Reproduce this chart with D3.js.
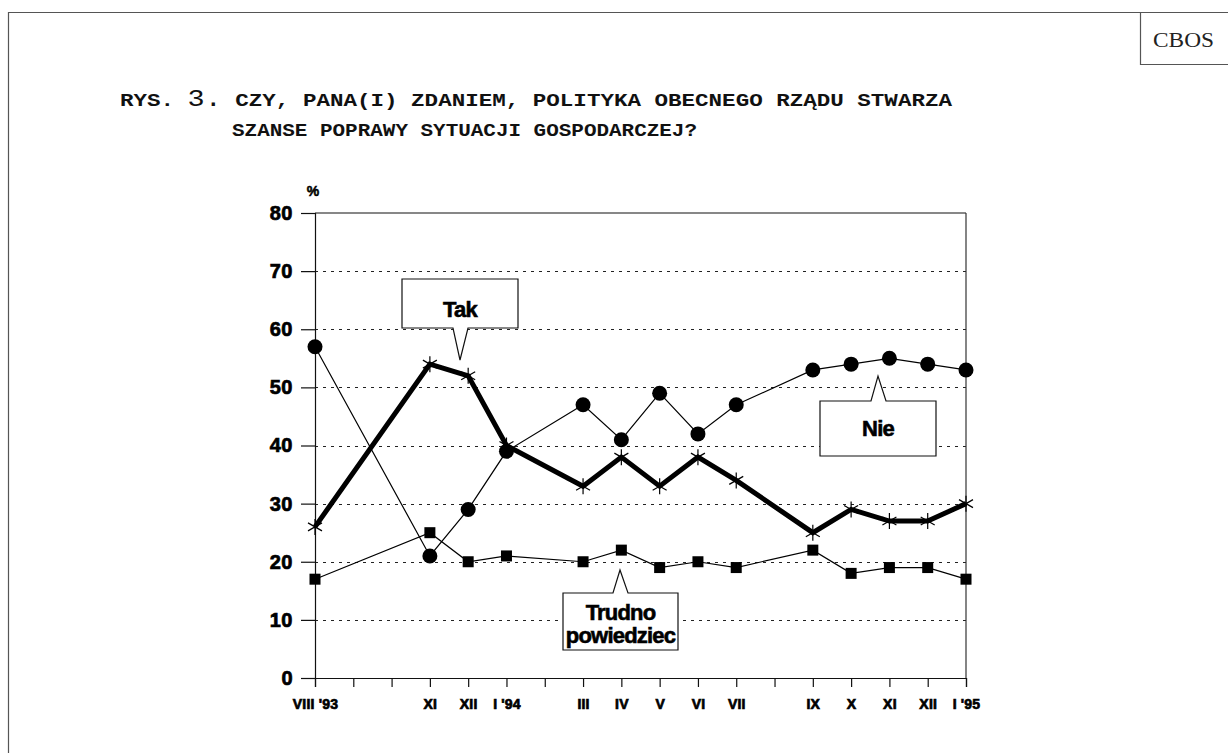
<!DOCTYPE html>
<html><head><meta charset="utf-8">
<script src="https://cdn.jsdelivr.net/npm/d3@7"></script>
<style>
html,body{margin:0;padding:0;background:#fff;}
svg{display:block;}
</style></head>
<body>
<svg id="c" width="1228" height="753"></svg>
<script>
// ---- data ----
const tickLabels = ["VIII '93","","","XI","XII","I '94","","III","IV","V","VI","VII","","IX","X","XI","XII","I '95"];
const pointIdx = [0,3,4,5,7,8,9,10,11,13,14,15,16,17];
const nie    = [57,21,29,39,47,41,49,42,47,53,54,55,54,53];
const tak    = [26,54,52,40,33,38,33,38,34,25,29,27,27,30];
const trudno = [17,25,20,21,20,22,19,20,19,22,18,19,19,17];
const yTicks = [0,10,20,30,40,50,60,70,80];
const gridTicks = [10,20,30,40,50,60,70];

const svg = d3.select("#c");
const x = d3.scaleLinear().domain([0,17]).range([315,966]);
const y = d3.scaleLinear().domain([0,80]).range([678,213]);

// page frame
svg.append("line").attr("x1",8).attr("y1",12.5).attr("x2",1228).attr("y2",12.5).attr("stroke","#555").attr("stroke-width",1.2);
svg.append("line").attr("x1",8.5).attr("y1",12).attr("x2",8.5).attr("y2",753).attr("stroke","#555").attr("stroke-width",1.2);
svg.append("line").attr("x1",1140.5).attr("y1",12).attr("x2",1140.5).attr("y2",65).attr("stroke","#555").attr("stroke-width",1.2);
svg.append("line").attr("x1",1140).attr("y1",64.5).attr("x2",1228).attr("y2",64.5).attr("stroke","#555").attr("stroke-width",1.2);
svg.append("text").attr("x",1153).attr("y",47).attr("font-family","'Liberation Serif','DejaVu Serif',serif").attr("font-size",20)
  .attr("textLength",61).attr("lengthAdjust","spacingAndGlyphs").attr("fill","#222").text("CBOS");

// title
const t1 = svg.append("text").attr("x",120).attr("y",106).attr("font-family","'Liberation Mono',monospace")
  .attr("font-weight","bold").attr("font-size",19).attr("fill","#111").attr("textLength",832).attr("lengthAdjust","spacingAndGlyphs");
t1.append("tspan").text("RYS. ");
t1.append("tspan").attr("font-size",24).attr("font-weight","normal").text("3.");
t1.append("tspan").text(" CZY, PANA(I) ZDANIEM, POLITYKA OBECNEGO RZĄDU STWARZA");
svg.append("text").attr("x",232).attr("y",136).attr("font-family","'Liberation Mono',monospace")
  .attr("font-weight","bold").attr("font-size",19).attr("fill","#111").attr("textLength",465).attr("lengthAdjust","spacingAndGlyphs")
  .text("SZANSE POPRAWY SYTUACJI GOSPODARCZEJ?");

// grid
svg.append("g").selectAll("line").data(gridTicks).join("line")
  .attr("x1",x(0)).attr("x2",x(17)).attr("y1",d=>Math.round(y(d))+0.5).attr("y2",d=>Math.round(y(d))+0.5)
  .attr("stroke","#222").attr("stroke-width",1).attr("stroke-dasharray","3,5");

// frame top/right
svg.append("line").attr("x1",x(0)).attr("x2",x(17)).attr("y1",y(80)).attr("y2",y(80)).attr("stroke","#111").attr("stroke-width",1.2);
svg.append("line").attr("x1",x(17)).attr("x2",x(17)).attr("y1",y(80)).attr("y2",y(0)).attr("stroke","#333").attr("stroke-width",1.2);

// axes
const yAxis = svg.append("g").attr("transform",`translate(${x(0)},0)`)
  .call(d3.axisLeft(y).tickValues(yTicks).tickSize(14).tickPadding(8));
yAxis.select(".domain").attr("stroke","#111").attr("stroke-width",1.2);
yAxis.selectAll(".tick line").attr("stroke","#111").attr("stroke-width",1.2);
yAxis.selectAll("text").attr("font-family","'Liberation Sans',Arial,sans-serif").attr("font-weight","bold")
  .attr("font-size",20).attr("fill","#000").attr("stroke","#000").attr("stroke-width",0.7).attr("letter-spacing",0.5);
svg.append("text").attr("x",313).attr("y",196).attr("text-anchor","middle").attr("font-family","'Liberation Sans',Arial,sans-serif")
  .attr("font-weight","bold").attr("font-size",14).attr("stroke","#000").attr("stroke-width",0.5).text("%");

const xAxis = svg.append("g").attr("transform",`translate(0,${y(0)})`)
  .call(d3.axisBottom(x).tickValues(d3.range(18)).tickFormat(i=>tickLabels[i]).tickSize(9).tickPadding(12));
xAxis.select(".domain").attr("stroke","#111").attr("stroke-width",1.2);
xAxis.selectAll(".tick line").attr("stroke","#111").attr("stroke-width",1.2);
xAxis.selectAll("text").attr("font-family","'Liberation Sans',Arial,sans-serif").attr("font-weight","bold")
  .attr("font-size",14).attr("fill","#000").attr("stroke","#000").attr("stroke-width",0.7).attr("letter-spacing",0.2);

// series
const line = d3.line().x((d,i)=>x(pointIdx[i])).y(d=>y(d));
svg.append("path").datum(trudno).attr("d",line).attr("fill","none").attr("stroke","#000").attr("stroke-width",1.2);
svg.append("path").datum(nie).attr("d",line).attr("fill","none").attr("stroke","#000").attr("stroke-width",1.2);
svg.append("path").datum(tak).attr("d",line).attr("fill","none").attr("stroke","#000").attr("stroke-width",5).attr("stroke-linejoin","miter");

svg.append("g").selectAll("rect").data(trudno).join("rect")
  .attr("x",(d,i)=>x(pointIdx[i])-5.5).attr("y",d=>y(d)-5.5).attr("width",11).attr("height",11).attr("fill","#000");
svg.append("g").selectAll("circle").data(nie).join("circle")
  .attr("cx",(d,i)=>x(pointIdx[i])).attr("cy",d=>y(d)).attr("r",7.5).attr("fill","#000");
const star = "M0,-8L0,8M-7,-4L7,4M-7,4L7,-4";
svg.append("g").selectAll("path").data(tak).join("path")
  .attr("transform",(d,i)=>`translate(${x(pointIdx[i])},${y(d)})`).attr("d",star)
  .attr("stroke","#000").attr("stroke-width",1.2).attr("fill","none");

// callouts
function callout(bx,by,bw,bh,baseL,baseR,tipX,tipY,lines,textY){
  const top = tipY < by;
  let p;
  if(top){
    p = `M${bx},${by}L${baseL},${by}L${tipX},${tipY}L${baseR},${by}L${bx+bw},${by}L${bx+bw},${by+bh}L${bx},${by+bh}Z`;
  } else {
    p = `M${bx},${by}L${bx+bw},${by}L${bx+bw},${by+bh}L${baseR},${by+bh}L${tipX},${tipY}L${baseL},${by+bh}L${bx},${by+bh}Z`;
  }
  svg.append("path").attr("d",p).attr("fill","#fff").attr("stroke","#111").attr("stroke-width",1.2);
  lines.forEach((s,k)=>{
    svg.append("text").attr("x",bx+bw/2).attr("y",textY[k]).attr("text-anchor","middle")
      .attr("font-family","'Liberation Sans',Arial,sans-serif").attr("font-weight","bold").attr("font-size",22)
      .attr("letter-spacing",-0.8).attr("fill","#000").attr("stroke","#000").attr("stroke-width",0.6).text(s);
  });
}
callout(402,279,116,49,453,468,460,360,["Tak"],[317]);
callout(820,401,116,55,871,886,878,376,["Nie"],[436]);
callout(563,593,115,57,613,628,620,570,["Trudno","powiedziec"],[620,643]);
</script>
</body></html>
